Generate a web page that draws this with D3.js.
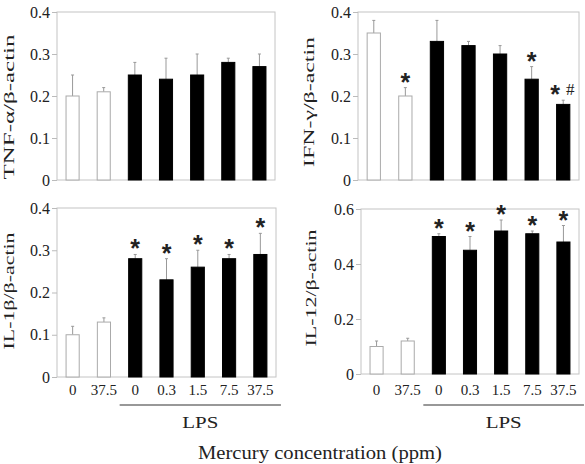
<!DOCTYPE html>
<html>
<head>
<meta charset="utf-8">
<script src="https://cdn.jsdelivr.net/npm/d3@7"></script>
<style>
  body { margin: 0; background: #fff; }
  text { font-family: "Liberation Serif", serif; fill: #222; }
</style>
</head>
<body>
<div id="chart"></div>
<script>
// concentrations (ppm); the last five are LPS-treated
var categories = ["0", "37.5", "0", "0.3", "1.5", "7.5", "37.5"];
var lps = [false, false, true, true, true, true, true];

var tnf = [0.20, 0.21, 0.25, 0.24, 0.25, 0.28, 0.27];
var tnfErr = [0.05, 0.01, 0.03, 0.05, 0.05, 0.01, 0.03];

var ifn = [0.35, 0.20, 0.33, 0.32, 0.30, 0.24, 0.18];
var ifnErr = [0.03, 0.02, 0.05, 0.01, 0.02, 0.03, 0.01];
var ifnMarks = ["", "*", "", "", "", "*", "*#"];

var il1b = [0.10, 0.13, 0.28, 0.23, 0.26, 0.28, 0.29];
var il1bErr = [0.02, 0.01, 0.01, 0.05, 0.04, 0.01, 0.05];
var il1bMarks = ["", "", "*", "*", "*", "*", "*"];

var il12 = [0.10, 0.12, 0.50, 0.45, 0.52, 0.51, 0.48];
var il12Err = [0.02, 0.01, 0.01, 0.05, 0.04, 0.01, 0.06];
var il12Marks = ["", "", "*", "*", "*", "*", "*"];

var yTicks4 = [0, 0.1, 0.2, 0.3, 0.4];
var yTicks6 = [0, 0.2, 0.4, 0.6];

var svg = d3.select("#chart")
    .append("svg")
    .attr("width", 585)
    .attr("height", 464);

var panels = [
    {label: "TNF-α/β-actin", values: tnf, err: tnfErr, marks: null, max: 0.4, ticks: yTicks4,
     x0: 57, x1: 275, y0: 12, y1: 180, labelX: 14, labelY: 107, labelLen: 145, xLabels: false},
    {label: "IFN-γ/β-actin", values: ifn, err: ifnErr, marks: ifnMarks, max: 0.4, ticks: yTicks4,
     x0: 358, x1: 579, y0: 12, y1: 180, labelX: 314, labelY: 102, labelLen: 130, xLabels: false},
    {label: "IL-1β/β-actin", values: il1b, err: il1bErr, marks: il1bMarks, max: 0.4, ticks: yTicks4,
     x0: 57, x1: 276, y0: 208, y1: 377, labelX: 14, labelY: 291, labelLen: 117, xLabels: true},
    {label: "IL-12/β-actin", values: il12, err: il12Err, marks: il12Marks, max: 0.6, ticks: yTicks6,
     x0: 361, x1: 579, y0: 209, y1: 374, labelX: 316, labelY: 288, labelLen: 117, xLabels: true}
];

panels.forEach(function(p) {
    var g = svg.append("g");
    var idx = d3.range(categories.length);

    var x = d3.scaleBand()
        .domain(idx)
        .range([p.x0, p.x1])
        .paddingInner(0.58)
        .paddingOuter(0.29);

    var y = d3.scaleLinear()
        .domain([0, p.max])
        .range([p.y1, p.y0]);

    // frame
    g.append("rect")
        .attr("x", p.x0)
        .attr("y", p.y0)
        .attr("width", p.x1 - p.x0)
        .attr("height", p.y1 - p.y0)
        .attr("fill", "none")
        .attr("stroke", "#c4c4c4");

    var axis = g.append("g")
        .attr("transform", "translate(" + p.x0 + ",0)")
        .call(d3.axisLeft(y).tickValues(p.ticks).tickSize(5).tickPadding(2)
            .tickFormat(function(d) { return d === 0 ? "0" : d3.format(".1f")(d); }));
    axis.select(".domain").remove();
    axis.selectAll("line").attr("stroke", "#bbb");
    axis.selectAll("text")
        .style("font-family", "Liberation Serif, serif")
        .style("font-size", "16px")
        .attr("fill", "#222");

    // error bars
    g.selectAll(".err")
        .data(idx)
        .enter().append("g")
        .attr("class", "err")
        .each(function(i) {
            var cx = x(i) + x.bandwidth() / 2;
            var e = d3.select(this);
            e.append("line")
                .attr("x1", cx).attr("x2", cx)
                .attr("y1", y(p.values[i]))
                .attr("y2", y(p.values[i] + p.err[i]))
                .attr("stroke", "#999");
            e.append("line")
                .attr("x1", cx - 1.5).attr("x2", cx + 1.5)
                .attr("y1", y(p.values[i] + p.err[i]))
                .attr("y2", y(p.values[i] + p.err[i]))
                .attr("stroke", "#999");
        });

    g.selectAll(".bar")
        .data(idx)
        .enter().append("rect")
        .attr("class", "bar")
        .attr("x", function(i) { return x(i); })
        .attr("y", function(i) { return y(p.values[i]); })
        .attr("width", x.bandwidth())
        .attr("height", function(i) { return y(0) - y(p.values[i]); })
        .attr("fill", function(i) { return lps[i] ? "#000" : "#fff"; })
        .attr("stroke", function(i) { return lps[i] ? "#000" : "#aaa"; });

    if (p.marks) {
        idx.forEach(function(i) {
            var m = p.marks[i];
            if (!m) return;
            var cx = x(i) + x.bandwidth() / 2;
            var top = y(p.values[i] + p.err[i]) - 10;
            var hash = m.indexOf("#") >= 0;
            g.append("text")
                .attr("x", hash ? cx - 8 : cx)
                .attr("y", top + 13)
                .attr("text-anchor", "middle")
                .style("font-family", "Liberation Sans, sans-serif")
                .style("font-weight", "bold")
                .style("font-size", "25px")
                .text("*");
            if (hash) {
                g.append("text")
                    .attr("x", cx + 7)
                    .attr("y", top + 5)
                    .attr("text-anchor", "middle")
                    .style("font-size", "17px")
                    .text("#");
            }
        });
    }

    g.append("text")
        .attr("transform", "translate(" + p.labelX + "," + p.labelY + ") rotate(-90)")
        .attr("text-anchor", "middle")
        .attr("textLength", p.labelLen)
        .attr("lengthAdjust", "spacingAndGlyphs")
        .style("font-size", "15.5px")
        .text(p.label);

    if (p.xLabels) {
        g.selectAll(".xl")
            .data(idx)
            .enter().append("text")
            .attr("class", "xl")
            .attr("x", function(i) { return x(i) + x.bandwidth() / 2; })
            .attr("y", 395)
            .attr("text-anchor", "middle")
            .style("font-size", "15px")
            .text(function(i) { return categories[i]; });

        var lx0 = x(2) - 9,
            lx1 = x(6) + x.bandwidth() + 14;
        g.append("line")
            .attr("x1", lx0).attr("x2", lx1)
            .attr("y1", 405).attr("y2", 405)
            .attr("stroke", "#333")
            .attr("stroke-width", 1.2);
        g.append("text")
            .attr("x", (lx0 + lx1) / 2)
            .attr("y", 428)
            .attr("text-anchor", "middle")
            .attr("textLength", 36)
            .attr("lengthAdjust", "spacingAndGlyphs")
            .style("font-size", "17px")
            .text("LPS");
    }
});

svg.append("text")
    .attr("x", 320)
    .attr("y", 459)
    .attr("text-anchor", "middle")
    .attr("textLength", 244)
    .attr("lengthAdjust", "spacingAndGlyphs")
    .style("font-size", "18px")
    .text("Mercury concentration (ppm)");
</script>
</body>
</html>
